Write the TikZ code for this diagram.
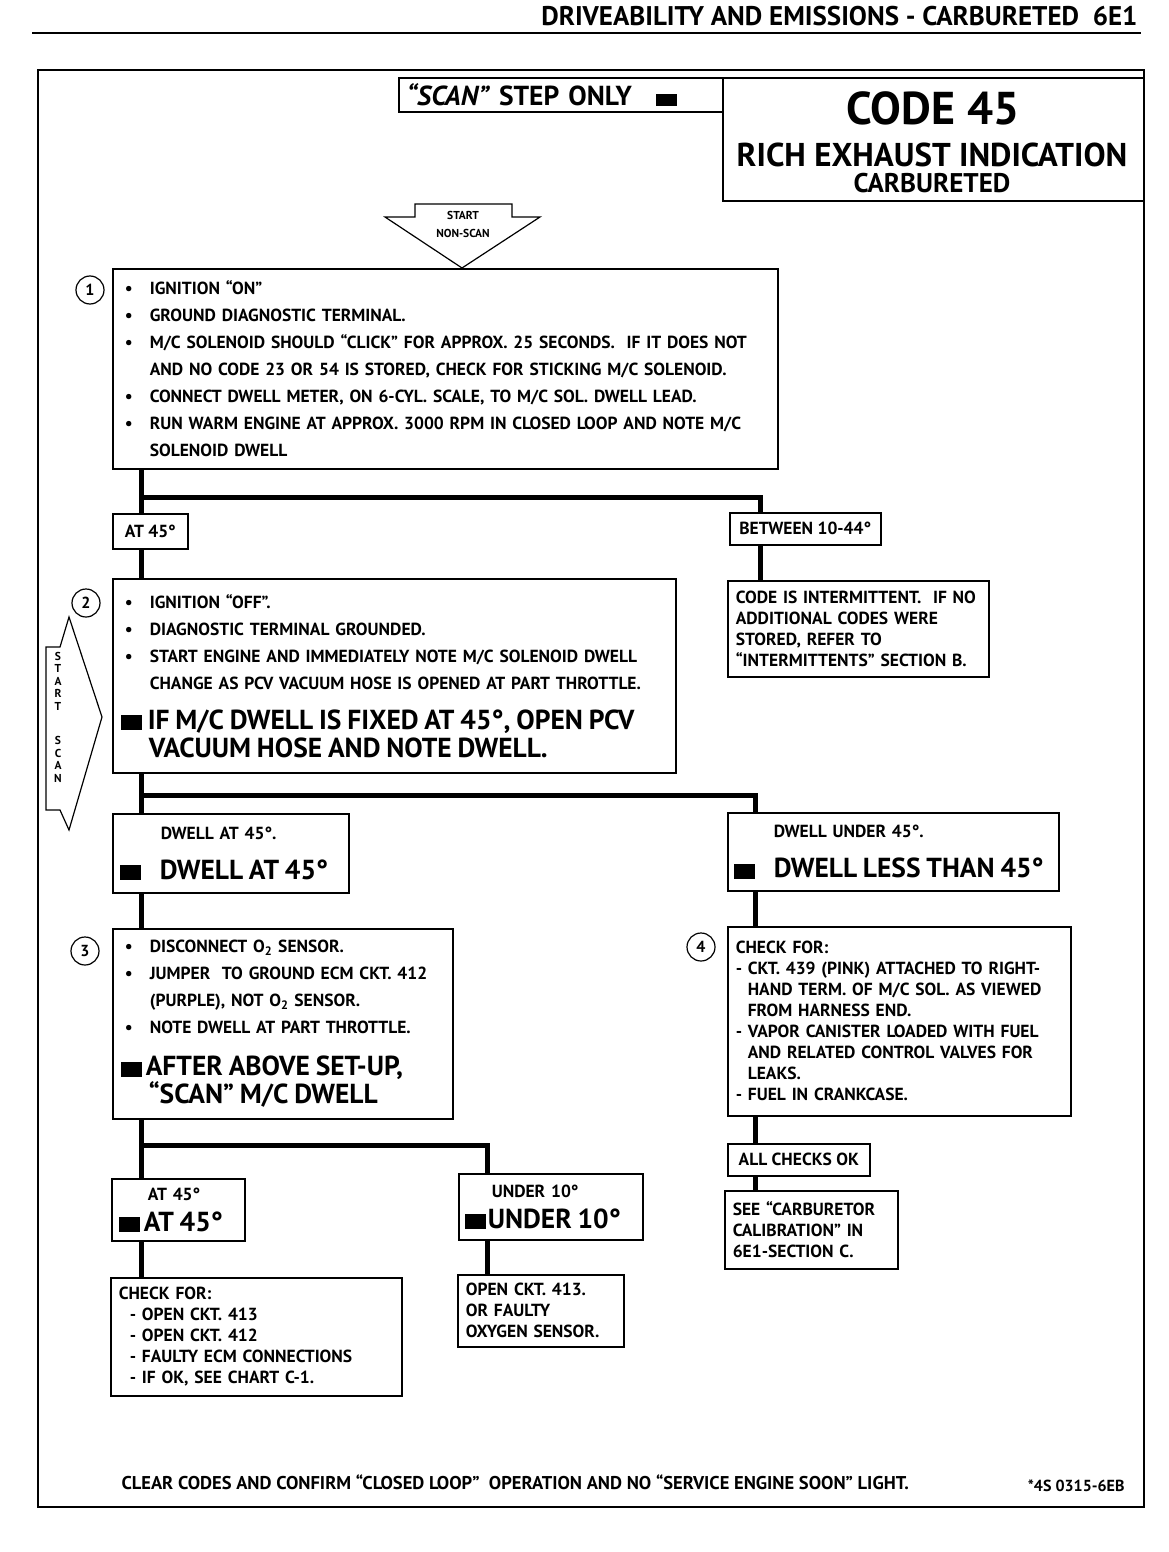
\documentclass[tikz,border=0pt]{standalone}
\usepackage{fontspec}
\setmainfont{PT Sans}
\usetikzlibrary{positioning}

\newcommand\fsmall{\fontsize{17.5}{27}\selectfont}
\newcommand\fnote{\fontsize{17.5}{21}\selectfont}
\newcommand\fbig{\fontsize{27.5}{28}\selectfont}
\newcommand\blk{\rule[-1pt]{21pt}{15pt}}
\newcommand\bul{\hspace*{4pt}\makebox[25pt][l]{\textbullet}}
\newcommand\ind{\hspace*{29pt}}

\begin{document}
\begin{tikzpicture}[x=1pt,y=-1pt,every node/.style={font=\bfseries},
                    box/.style={draw,line width=1.6pt,fill=white,anchor=north west,
                      inner xsep=8pt,inner ysep=3pt,align=left,font=\bfseries\fsmall},
                    cbox/.style={box,align=center,inner sep=0pt},
                    conn/.style={line width=5pt},
                    num/.style={draw,circle,line width=1.2pt,minimum size=28pt,inner sep=0pt,
                      font=\bfseries\fontsize{16}{16}\selectfont}]
  \useasboundingbox (0,0) rectangle (1168,1552);

  \node[anchor=east,font=\bfseries\fontsize{27}{27}\selectfont] (head) at (1141,16)
    {DRIVEABILITY AND EMISSIONS - CARBURETED\ \ 6E1};
  \draw[line width=2pt] (32,33) -- (1141,33);
  \draw[line width=2.5pt] (38,70) rectangle (1144,1507);

  \node[box,text width=308,minimum height=34,font=\bfseries\fontsize{27.5}{27.5}\selectfont] (scan) at (398,77)
    {\textit{“SCAN”} STEP ONLY\hspace{24pt}\rule{21pt}{12pt}};
  \node[box,minimum width=421,minimum height=123,inner sep=0pt] (code) at (722,77) {};
  \node[font=\bfseries\fontsize{46}{46}\selectfont] (code45) at (933,108) {CODE 45};
  \node[font=\bfseries\fontsize{33}{33}\selectfont] (rich) at (932,155) {RICH EXHAUST INDICATION};
  \node[font=\bfseries\fontsize{27}{27}\selectfont] (carb) at (932,183) {CARBURETED};

  \draw[line width=1.2pt,fill=white] (415,204) -- (512,204) -- (512,217) -- (540,217) -- (462,268)
    -- (385,217) -- (415,217) -- cycle;
  \node[align=center,font=\bfseries\fontsize{11.5}{18}\selectfont] (start) at (463,224) {START\\NON-SCAN};

  \node[box,text width=649,minimum height=200] (b1) at (112,268) {%
    \bul IGNITION “ON”\\
    \bul GROUND DIAGNOSTIC TERMINAL.\\
    \bul M/C SOLENOID SHOULD “CLICK” FOR APPROX. 25 SECONDS.\ \ IF IT DOES NOT\\
    \ind AND NO CODE 23 OR 54 IS STORED, CHECK FOR STICKING M/C SOLENOID.\\
    \bul CONNECT DWELL METER, ON 6-CYL. SCALE, TO M/C SOL. DWELL LEAD.\\
    \bul RUN WARM ENGINE AT APPROX. 3000 RPM IN CLOSED LOOP AND NOTE M/C\\
    \ind SOLENOID DWELL};
  \node[num] (n1) at (90,290) {1};

  \node[cbox,minimum width=75,minimum height=35] (at45a) at (112,513) {AT 45°};
  \node[cbox,minimum width=151,minimum height=32] (btw) at (729,512) {BETWEEN 10-44°};
  \coordinate (j1) at (141,497);
  \coordinate (j1r) at (760,497);
  \draw[conn] (b1.south -| j1) -- (at45a.north -| j1);
  \draw[conn] (j1) -| (btw.north -| j1r);

  \node[box,text width=547,minimum height=194] (b2) at (112,578) {%
    \bul IGNITION “OFF”.\\
    \bul DIAGNOSTIC TERMINAL GROUNDED.\\
    \bul START ENGINE AND IMMEDIATELY NOTE M/C SOLENOID DWELL\\
    \ind CHANGE AS PCV VACUUM HOSE IS OPENED AT PART THROTTLE.\par
    \vspace{12pt}{\fbig\blk\hspace{6pt}IF M/C DWELL IS FIXED AT 45°, OPEN PCV\\
    \hspace*{28pt}VACUUM HOSE AND NOTE DWELL.\par}};
  \node[num] (n2) at (86,603) {2};
  \node[box,font=\bfseries\fnote,text width=245,minimum height=96] (ci) at (727,580) {%
    CODE IS INTERMITTENT.\ \ IF NO\\ADDITIONAL CODES WERE\\STORED, REFER TO\\“INTERMITTENTS” SECTION B.};
  \draw[conn] (at45a.south -| j1) -- (b2.north -| j1);
  \draw[conn] (btw.south -| j1r) -- (ci.north -| j1r);

  \draw[line width=1.2pt,fill=white] (69,617) -- (102,717) -- (69,830) -- (60,810) -- (46,810)
    -- (46,647) -- (60,647) -- cycle;
  \node[align=center,font=\bfseries\fontsize{11.5}{12.5}\selectfont] (sscan) at (58,717)
    {S\\T\\A\\R\\T\\[22pt]S\\C\\A\\N};

  \node[box,text width=222,minimum height=79,inner xsep=7pt] (dw45) at (112,813) {%
    \hspace*{41pt}DWELL AT 45°.\par\vspace{12pt}
    {\fbig\blk\hspace{19pt}DWELL AT 45°\par}};
  \node[box,text width=319,minimum height=78,inner xsep=6pt] (dwlt) at (727,812) {%
    \hspace*{40pt}DWELL UNDER 45°.\par\vspace{12pt}
    {\fbig\blk\hspace{19pt}DWELL LESS THAN 45°\par}};
  \coordinate (j2) at (141,795);
  \coordinate (j2r) at (755,795);
  \draw[conn] (b2.south -| j2) -- (dw45.north -| j2);
  \draw[conn] (j2) -| (dwlt.north -| j2r);

  \node[box,text width=324,minimum height=190] (b3) at (112,928) {%
    \bul DISCONNECT O\textsubscript{2} SENSOR.\\
    \bul JUMPER\ \ TO GROUND ECM CKT. 412\\
    \ind (PURPLE), NOT O\textsubscript{2} SENSOR.\\
    \bul NOTE DWELL AT PART THROTTLE.\par
    \vspace{14pt}{\fbig\blk\hspace{4pt}AFTER ABOVE SET-UP,\\
    \hspace*{28pt}“SCAN” M/C DWELL\par}};
  \node[num] (n3) at (85,951) {3};
  \node[box,font=\bfseries\fnote,text width=327,minimum height=189] (b4) at (727,926) {%
    CHECK FOR:\\
    - CKT. 439 (PINK) ATTACHED TO RIGHT-\\
    \hspace*{12pt}HAND TERM. OF M/C SOL. AS VIEWED\\
    \hspace*{12pt}FROM HARNESS END.\\
    - VAPOR CANISTER LOADED WITH FUEL\\
    \hspace*{12pt}AND RELATED CONTROL VALVES FOR\\
    \hspace*{12pt}LEAKS.\\
    - FUEL IN CRANKCASE.};
  \node[num] (n4) at (701,947) {4};
  \draw[conn] (dw45.south -| j2) -- (b3.north -| j2);
  \draw[conn] (dwlt.south -| j2r) -- (b4.north -| j2r);

  \node[cbox,minimum width=142,minimum height=32] (ok) at (727,1143) {ALL CHECKS OK};
  \node[box,font=\bfseries\fnote,text width=157,minimum height=78] (see) at (724,1190) {%
    SEE “CARBURETOR\\CALIBRATION” IN\\6E1-SECTION C.};
  \draw[conn] (b4.south -| j2r) -- (ok.north -| j2r);
  \draw[conn] (ok.south -| j2r) -- (see.north -| j2r);

  \node[box,text width=119,minimum height=62,inner xsep=7pt] (at45b) at (111,1178) {%
    \hspace*{29pt}AT 45°\par\vspace{3pt}
    {\fbig\blk\hspace{4pt}AT 45°\par}};
  \node[box,text width=172,minimum height=66,inner xsep=6pt] (und) at (458,1173) {%
    \hspace*{27pt}UNDER 10°\par\vspace{3pt}
    {\fbig\blk\hspace{2pt}UNDER 10°\par}};
  \coordinate (j3) at (141,1145);
  \coordinate (j3r) at (487,1145);
  \draw[conn] (b3.south -| j3) -- (at45b.north -| j3);
  \draw[conn] (j3) -| (und.north -| j3r);

  \node[box,font=\bfseries\fnote,text width=275,minimum height=118] (chk) at (110,1277) {%
    CHECK FOR:\\
    \hspace*{11pt}- OPEN CKT. 413\\
    \hspace*{11pt}- OPEN CKT. 412\\
    \hspace*{11pt}- FAULTY ECM CONNECTIONS\\
    \hspace*{11pt}- IF OK, SEE CHART C-1.};
  \node[box,font=\bfseries\fnote,text width=150,minimum height=72] (opn) at (457,1274) {%
    OPEN CKT. 413.\\OR FAULTY\\OXYGEN SENSOR.};
  \draw[conn] (at45b.south -| j3) -- (chk.north -| j3);
  \draw[conn] (und.south -| j3r) -- (opn.north -| j3r);

  \node[anchor=west,font=\bfseries\fontsize{18.5}{18.5}\selectfont] (foot) at (118,1482)
    {CLEAR CODES AND CONFIRM “CLOSED LOOP”\ \ OPERATION AND NO “SERVICE ENGINE SOON” LIGHT.};
  \node[anchor=east,font=\bfseries\fontsize{16}{16}\selectfont] (ref) at (1128,1486) {*4S 0315-6EB};
\end{tikzpicture}
\end{document}
